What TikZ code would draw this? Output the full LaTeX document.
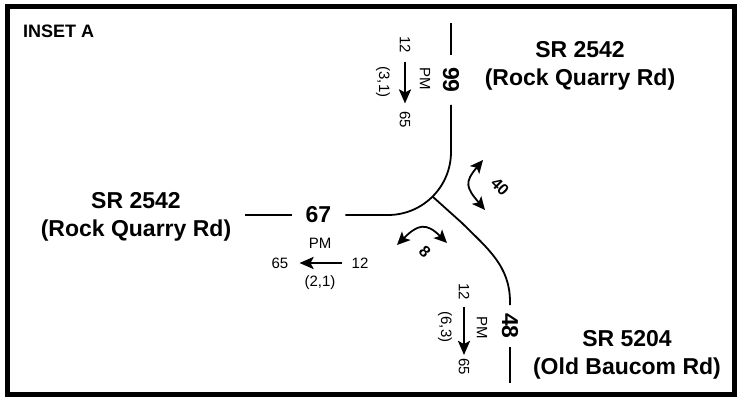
\documentclass[tikz,border=0pt]{standalone}
\usepackage{fontspec}
\setmainfont{Liberation Sans}
\usetikzlibrary{arrows.meta,calc}

\begin{document}
\begin{tikzpicture}[
                x=1pt, y=1pt,
                road/.style={line width=1.8pt},
                roadname/.style={font=\fontsize{23}{28}\selectfont\bfseries, align=center, inner sep=0pt},
                roadnum/.style={font=\fontsize{23}{27}\selectfont\bfseries, inner ysep=1pt},
                small/.style={font=\fontsize{15}{18}\selectfont, inner sep=2pt},
                turnlbl/.style={font=\fontsize{16}{19}\selectfont\bfseries, rotate=-45, inner sep=0pt},
                flow/.style={line width=2.4pt, -{Stealth[length=14pt, width=12pt, inset=3pt]}},
                turn/.style={line width=1.8pt, {Stealth[length=13pt, width=12pt, inset=3pt]}-{Stealth[length=13pt, width=12pt, inset=3pt]}},
            ]
            \useasboundingbox (0,0) rectangle (737,397);
            \draw[line width=5pt] (7,2.5) rectangle (734.5,390.5);
            \node[font=\fontsize{18}{21}\selectfont\bfseries, anchor=west, inner sep=0pt] (inset) at (23,366) {INSET A};

            % ── Road names ────────────────────────────────────────
            \node[roadname] (nNorth) at (580,331)   {SR 2542\\(Rock Quarry Rd)};
            \node[roadname] (nWest)  at (136,180.5) {SR 2542\\(Rock Quarry Rd)};
            \node[roadname] (nSouth) at (627,42)    {SR 5204\\(Old Baucom Rd)};

            % ── Daily volumes on each leg ─────────────────────────
            \node[roadnum, rotate=-90, inner xsep=12pt] (v99) at (451,317)   {99};
            \node[roadnum, inner xsep=14pt]             (v67) at (318.5,182) {67};
            \node[roadnum, rotate=-90, inner xsep=8pt]  (v48) at (510,71)    {48};

            % ── Road lines ────────────────────────────────────────
            \coordinate (jct) at ($(388,245)+(-45:63)$);
            \draw[road] (451,374) -- (v99);
            \draw[road] (v99) -- (451,245) arc[start angle=0, end angle=-90, radius=63] -- (v67);
            \draw[road] (v67) -- (245,182);
            \draw[road] (jct) -- (462,174) to[out=-45, in=90] (510,95) -- (v48);
            \draw[road] (v48) -- (510,14);

            % ── PM flows: west leg ────────────────────────────────
            \node[small] (w12)  at (360,134) {12};
            \node[small] (w65)  at (280,134) {65};
            \node[small] (wpm)  at (320,154) {PM};
            \node[small] (wlos) at (320,114) {(2,1)};
            \draw[flow, shorten <=7pt, shorten >=9pt] (w12) -- (w65);

            % ── PM flows: north leg ───────────────────────────────
            \node[small, rotate=-90] (n12)  at (405,352) {12};
            \node[small, rotate=-90] (n65)  at (405,277) {65};
            \node[small, rotate=-90] (npm)  at (425,318) {PM};
            \node[small, rotate=-90] (nlos) at (383,315) {(3,1)};
            \draw[flow, shorten <=6pt, shorten >=6pt] (n12) -- (n65);

            % ── PM flows: south leg ───────────────────────────────
            \node[small, rotate=-90] (s12)  at (464,105) {12};
            \node[small, rotate=-90] (s65)  at (464,30)  {65};
            \node[small, rotate=-90] (spm)  at (482,69)  {PM};
            \node[small, rotate=-90] (slos) at (445,70)  {(6,3)};
            \draw[flow, shorten <=4pt, shorten >=1.5pt] (s12) -- (s65);

            % ── Turning movements ─────────────────────────────────
            \coordinate (r40a) at (483,237);
            \coordinate (r40b) at (485,187);
            \draw[turn] (r40a) to[out=230, in=130, looseness=1.5] (r40b);
            \node[turnlbl] (t40) at (500,210) {40};
            \coordinate (l8a) at (397,152);
            \coordinate (l8b) at (447,154);
            \draw[turn] (l8a) to[out=45, in=135, looseness=1.5] (l8b);
            \node[turnlbl] (t8) at (425,145) {8};
        \end{tikzpicture}
\end{document}
